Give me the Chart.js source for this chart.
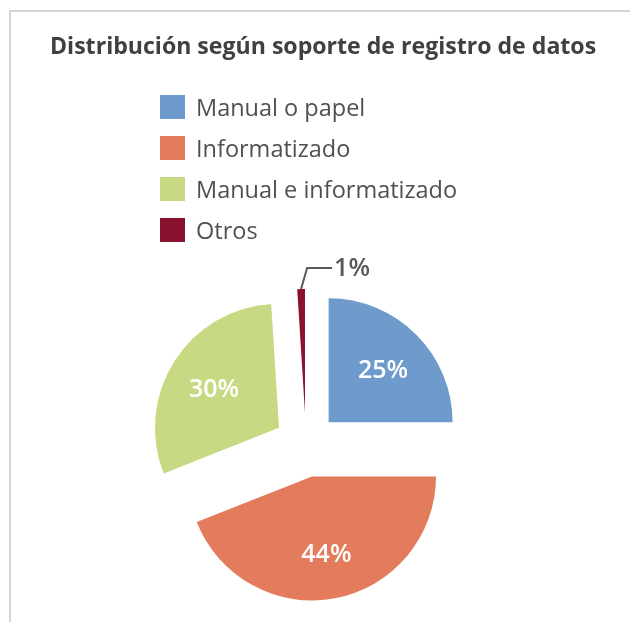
<!DOCTYPE html>
<html>
<head>
<meta charset="utf-8">
<script src="https://cdn.jsdelivr.net/npm/chart.js@4.4.1/dist/chart.umd.min.js"></script>
<style>
  html, body { margin: 0; padding: 0; background: #fff; overflow: hidden; }
  #wrap { position: relative; width: 630px; height: 622px; }
  #frame { position: absolute; left: 9px; top: 10px; width: 700px; height: 700px;
           border-left: 2px solid #d4d4d4; border-top: 2px solid #d4d4d4; }
  #chart { position: absolute; left: 0; top: 0; }
  #title { position: absolute; left: 50px; top: 31px; line-height: 28px; white-space: nowrap;
           font-family: "Open Sans", sans-serif; font-size: 23.1px; font-weight: bold; color: #404040; }
  #legend { position: absolute; left: 160px; top: 86px; list-style: none; margin: 0; padding: 0;
            font-family: "Open Sans", sans-serif; font-size: 23.5px; color: #505050; }
  #legend li { height: 41px; display: flex; align-items: center; }
  #legend .box { width: 25px; height: 24px; margin-right: 11px; }
</style>
</head>
<body>
<div id="wrap">
  <div id="frame"></div>
  <canvas id="chart" width="630" height="622"></canvas>
  <div id="title">Distribución según soporte de registro de datos</div>
  <ul id="legend"></ul>
</div>
<script>
// data
const categories = ['Manual o papel', 'Informatizado', 'Manual e informatizado', 'Otros'];
const shares = [25, 44, 30, 1];
const sliceColors = ['#6f9bcc', '#e37c5c', '#c7d982', '#8b1131'];

const EXPLODE = 32;

// legend (html)
const legend = document.getElementById('legend');
categories.forEach((c, i) => {
    const li = document.createElement('li');
    const box = document.createElement('span');
    box.className = 'box';
    box.style.background = sliceColors[i];
    li.appendChild(box);
    li.appendChild(document.createTextNode(c));
    legend.appendChild(li);
});

// every slice pulled out of the centre by the same distance
const explodePie = {
    id: 'explodePie',
    beforeDatasetDraw(chart, args) {
        const ctx = chart.ctx;
        args.meta.data.forEach(arc => {
            const mid = (arc.startAngle + arc.endAngle) / 2;
            ctx.save();
            ctx.translate(Math.cos(mid) * EXPLODE, Math.sin(mid) * EXPLODE);
            arc.draw(ctx);
            ctx.restore();
        });
        return false;
    }
};

// percentage labels, small slices get a leader line
const sliceLabels = {
    id: 'sliceLabels',
    afterDatasetsDraw(chart) {
        const ctx = chart.ctx;
        const meta = chart.getDatasetMeta(0);
        meta.data.forEach((arc, i) => {
            const mid = (arc.startAngle + arc.endAngle) / 2;
            const cos = Math.cos(mid), sin = Math.sin(mid);
            const text = shares[i] + '%';
            ctx.save();
            ctx.font = '600 25px "Open Sans"';
            ctx.textBaseline = 'middle';
            if (shares[i] >= 5) {
                const d = EXPLODE + arc.outerRadius * 0.62;
                ctx.fillStyle = '#fff';
                ctx.textAlign = 'center';
                ctx.fillText(text, arc.x + cos * d, arc.y + sin * d + 3);
            } else {
                const r = EXPLODE + arc.outerRadius;
                const sx = arc.x + cos * r, sy = arc.y + sin * r;
                const ex = sx + 6, ey = sy - 21;
                ctx.strokeStyle = '#595959';
                ctx.lineWidth = 2;
                ctx.beginPath();
                ctx.moveTo(sx, sy);
                ctx.lineTo(ex, ey);
                ctx.lineTo(ex + 25, ey);
                ctx.stroke();
                ctx.fillStyle = '#595959';
                ctx.textAlign = 'left';
                ctx.fillText(text, ex + 27, ey + 1);
            }
            ctx.restore();
        });
    }
};

new Chart(document.getElementById('chart'), {
    type: 'pie',
    data: {
        labels: categories,
        datasets: [{
            data: shares,
            backgroundColor: sliceColors,
            borderWidth: 0
        }]
    },
    options: {
        responsive: false,
        animation: false,
        radius: 124,
        layout: { padding: { left: 0, right: 18, top: 268, bottom: 0 } },
        plugins: {
            legend: { display: false },
            tooltip: { enabled: false },
            title: { display: false }
        }
    },
    plugins: [explodePie, sliceLabels]
});
</script>
</body>
</html>
